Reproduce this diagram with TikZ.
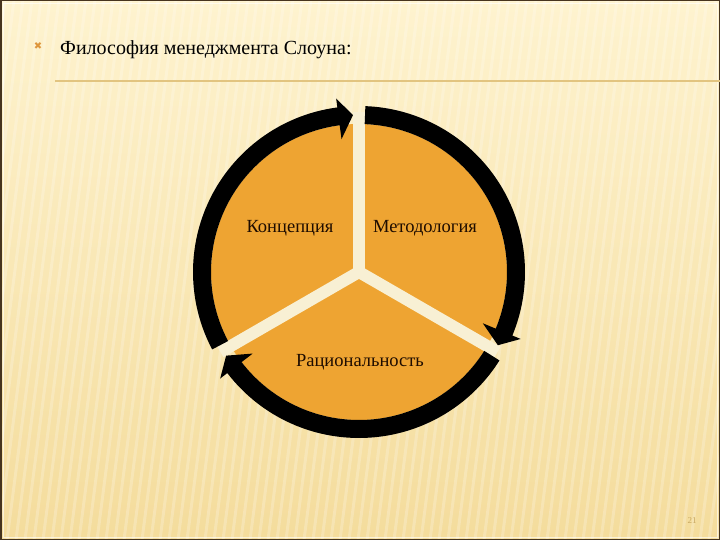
\documentclass[tikz,border=0pt]{standalone}
\usepackage{fontspec}
\setmainfont{Liberation Serif}
\newfontfamily\symfont{DejaVu Sans}
\usetikzlibrary{calc}
\definecolor{bgtop}{RGB}{254,243,207}
\definecolor{bgbot}{RGB}{244,220,156}
\definecolor{pieorange}{RGB}{238,164,50}
\definecolor{divcol}{RGB}{248,240,212}
\definecolor{rulecol}{RGB}{226,196,128}
\definecolor{framecol}{RGB}{70,52,30}
\definecolor{bulletcol}{RGB}{222,150,60}
\definecolor{textdark}{RGB}{30,12,0}
\definecolor{pagenum}{RGB}{200,168,96}
\tikzset{
  label text/.style={font=\fontsize{18.5}{22}\selectfont, text=textdark, inner sep=0pt},
  divider/.style={line width=12pt, draw=divcol},
}
% ring arrow: start angle, base angle of head, tip angle (clockwise, decreasing)
\newcommand\ringarrow[3]{%
  \fill[black] ([shift={(C)}]#1:148) arc[start angle=#1, end angle=#2, radius=148]
    -- ([shift={(C)}]#2:134) -- ([shift={(C)}]#3:157) -- ([shift={(C)}]#2:175)
    -- ([shift={(C)}]#2:166) arc[start angle=#2, end angle=#1, radius=166] -- cycle;
}
\begin{document}
\begin{tikzpicture}[x=1pt,y=1pt]
\useasboundingbox (0,0) rectangle (720,-540);
% background
\shade[top color=bgtop, bottom color=bgbot] (0,0) rectangle (720,-540);
\begin{scope}
\clip (0,0) rectangle (720,-540);
\foreach \i in {-40,-31,...,800} {
  \draw[white, opacity=0.22, line width=3pt] (\i,0) -- (\i-70,-540);
}
\end{scope}
% frame
\draw[framecol, line width=1.5pt] (0.75,-0.75) rectangle (719.25,-539.25);
\draw[white, opacity=0.6, line width=0.6pt] (3,-3) rectangle (717,-537);
% title
\node[text=bulletcol, font=\symfont\fontsize{10}{10}\selectfont, inner sep=0pt] (bullet) at (38,-46) {✖};
\node[anchor=base west, inner sep=0pt, font=\fontsize{20}{24}\selectfont, text=black] (title) at (60,-55) {Философия менеджмента Слоуна:};
\coordinate (ruleL) at (55,-81);
\coordinate (ruleR) at (720,-81);
\draw[rulecol, line width=1.5pt] (ruleL) -- (ruleR);
% pie
\coordinate (C) at (359,-272);
\fill[pieorange] (C) circle[radius=148];
\draw[divider] (C) -- ([shift={(C)}]90:160);
\draw[divider] (C) -- ([shift={(C)}]210:160);
\draw[divider] (C) -- ([shift={(C)}]330:160);
\fill[divcol] (C) circle[radius=6];
% cycle arrows
\ringarrow{207.8}{97.5}{92.2}
\ringarrow{87.8}{-22.5}{-27.8}
\ringarrow{-32.2}{-142.5}{-147.8}
% labels
\node[label text] (konc) at (290,-228) {Концепция};
\node[label text] (metod) at (425,-228) {Методология};
\node[label text] (rac) at (360,-362) {Рациональность};
% page number
\node[text=pagenum, font=\fontsize{9}{10}\selectfont, inner sep=0pt] (page) at (692,-521) {21};
\end{tikzpicture}
\end{document}
